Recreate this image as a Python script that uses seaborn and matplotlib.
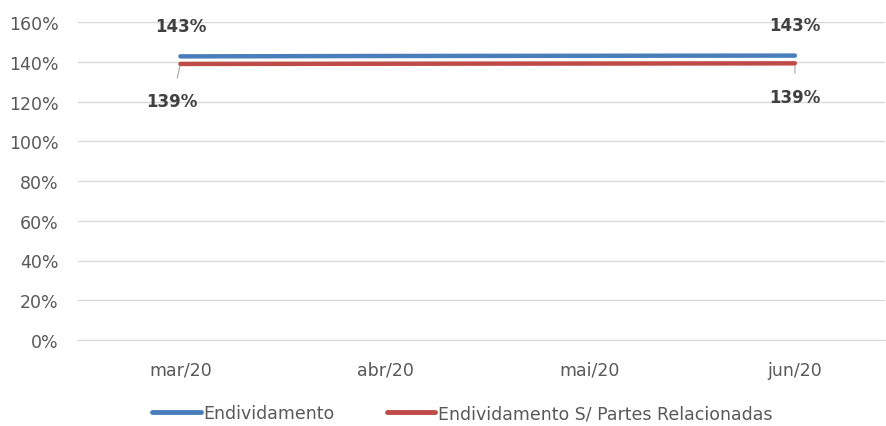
import pandas as pd
import numpy as np
import matplotlib
matplotlib.use('Agg')
import matplotlib.pyplot as plt
import seaborn as sns
from matplotlib.ticker import PercentFormatter

# Chart data
months = ['mar/20', 'abr/20', 'mai/20', 'jun/20']
endividamento = [1.427, 1.429, 1.430, 1.431]
endividamento_spr = [1.389, 1.390, 1.391, 1.392]
series_names = ['Endividamento', 'Endividamento S/ Partes Relacionadas']
yticks = [0, 0.2, 0.4, 0.6, 0.8, 1.0, 1.2, 1.4, 1.6]

df = pd.DataFrame({
    'mes': months * 2,
    'valor': endividamento + endividamento_spr,
    'serie': [series_names[0]] * 4 + [series_names[1]] * 4,
})
df['pos'] = list(range(len(months))) * 2

sns.set_style('white')
plt.rcParams['font.family'] = ['DejaVu Sans']

fig = plt.figure(figsize=(8.86, 4.27), dpi=100)
ax = fig.add_axes([78 / 886, 1 - 341 / 427, (885 - 78) / 886, (341 - 23) / 427])

sns.lineplot(data=df, x='pos', y='valor', hue='serie',
             palette=['#4A7EBB', '#BE4B48'], linewidth=3.2,
             solid_capstyle='round', ax=ax, legend=True)

ax.set_xlim(-0.4976, 3.44)
ax.set_ylim(0, 1.6)
ax.set_yticks(yticks)
ax.yaxis.set_major_formatter(PercentFormatter(1.0, decimals=0))
ax.set_xticks(range(len(months)))
ax.set_xticklabels(months)
ax.set_xticks([-0.5, 0.5, 1.5, 2.5], minor=True)
ax.tick_params(axis='x', which='major', length=0, pad=15, labelsize=12.5, labelcolor='#595959')
ax.tick_params(axis='x', which='minor', length=7, color='#D9D9D9', width=1, direction='out')
ax.tick_params(axis='y', length=0, pad=14, labelsize=12.5, labelcolor='#595959')
ax.grid(axis='y', color='#D9D9D9', linewidth=1)
ax.set_axisbelow(True)
ax.set_xlabel('')
ax.set_ylabel('')
for s in ['left', 'right', 'top']:
    ax.spines[s].set_visible(False)
ax.spines['bottom'].set_color('#D9D9D9')

# data labels on first and last points
lab = dict(fontsize=12, fontweight='bold', color='#404040', ha='center', va='center')
for i in [0, len(months) - 1]:
    ax.annotate(f'{endividamento[i] * 100:.0f}%', (i, endividamento[i]),
                xytext=(0, 22), textcoords='offset points', **lab)
ax.annotate(f'{endividamento_spr[0] * 100:.0f}%', (0, endividamento_spr[0]),
            xytext=(-6, -27), textcoords='offset points',
            arrowprops=dict(arrowstyle='-', color='#A6A6A6', lw=0.8, shrinkA=8, shrinkB=2), **lab)
ax.annotate(f'{endividamento_spr[3] * 100:.0f}%', (3, endividamento_spr[3]),
            xytext=(0, -24), textcoords='offset points',
            arrowprops=dict(arrowstyle='-', color='#A6A6A6', lw=0.8, shrinkA=8, shrinkB=2), **lab)

handles, labels = ax.get_legend_handles_labels()
leg = ax.legend(handles, labels, loc='center', bbox_to_anchor=(0.476, -0.23),
                ncol=2, frameon=False, fontsize=12.5, handlelength=2.8, handletextpad=0.15,
                columnspacing=3.0)
for t in leg.get_texts():
    t.set_color('#595959')
for l in leg.get_lines():
    l.set_linewidth(3.5)

fig.savefig('out.png', dpi=100)
